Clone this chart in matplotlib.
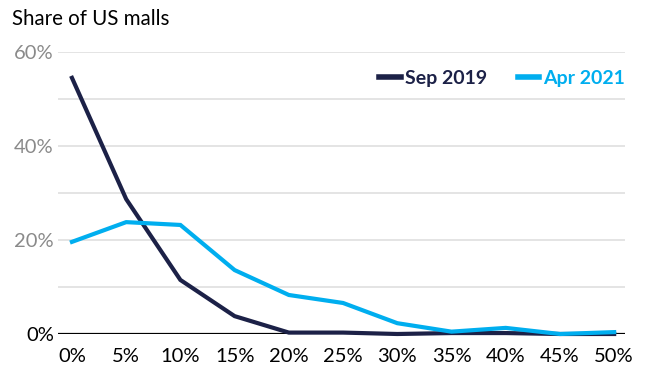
"""
Distribution of US malls by vacancy rate, Sep 2019 vs Apr 2021.
"""
import matplotlib
matplotlib.use("Agg")
import matplotlib.pyplot as plt
from matplotlib.ticker import FuncFormatter

NAVY = "#1c2147"
CYAN = "#00aeef"
GRID = "#dddddd"
GREY = "#8a8a8a"

plt.rcParams["font.family"] = ["Lato", "DejaVu Sans"]

# vacancy rate buckets (%) and share of malls in each (%)
vacancy = [0, 5, 10, 15, 20, 25, 30, 35, 40, 45, 50]
sep_2019 = [54.5, 28.7, 11.5, 3.8, 0.3, 0.3, 0.0, 0.2, 0.2, 0.0, 0.0]
apr_2021 = [19.6, 23.8, 23.2, 13.6, 8.3, 6.6, 2.3, 0.5, 1.3, 0.0, 0.4]
y_ticks = [0, 20, 40, 60]

fig = plt.figure(figsize=(6.47, 3.70), dpi=100, facecolor="white")
ax = fig.add_axes([0.0896, 0.0973, 0.8764, 0.7622])

ax.set_xlim(-1.29, 51.0)
ax.set_ylim(0, 60)

for y in range(10, 61, 10):
    ax.axhline(y, color=GRID, lw=1.1, zorder=0)
ax.axhline(0, color="black", lw=1.6, zorder=1)

ax.plot(vacancy, sep_2019, color=NAVY, lw=3.0, label="Sep 2019",
        solid_joinstyle="miter", clip_on=False, zorder=3)
ax.plot(vacancy, apr_2021, color=CYAN, lw=3.0, label="Apr 2021",
        solid_joinstyle="miter", clip_on=False, zorder=4)

ax.set_xticks(vacancy)
ax.set_yticks(y_ticks)
pct = FuncFormatter(lambda v, _: f"{v:.0f}%")
ax.xaxis.set_major_formatter(pct)
ax.yaxis.set_major_formatter(pct)
ax.tick_params(axis="x", length=0, labelsize=14.5, pad=10, colors="black")
ax.tick_params(axis="y", length=0, labelsize=14.5, pad=3, labelcolor=GREY)
ax.get_yticklabels()[0].set_color("black")
for s in ax.spines.values():
    s.set_visible(False)

leg = ax.legend(loc="center right", bbox_to_anchor=(1.0, 0.906), ncol=2,
                frameon=False, handlelength=1.1, handletextpad=0.2,
                columnspacing=1.6, borderaxespad=0, borderpad=0,
                prop={"weight": "bold", "size": 14})
for text, color in zip(leg.get_texts(), [NAVY, CYAN]):
    text.set_color(color)
for line in leg.get_lines():
    line.set_linewidth(4)

fig.text(0.018, 0.948, "Share of US malls", fontsize=14.8, color="black",
         ha="left", va="center")

fig.savefig("out.png", dpi=100, facecolor="white")
